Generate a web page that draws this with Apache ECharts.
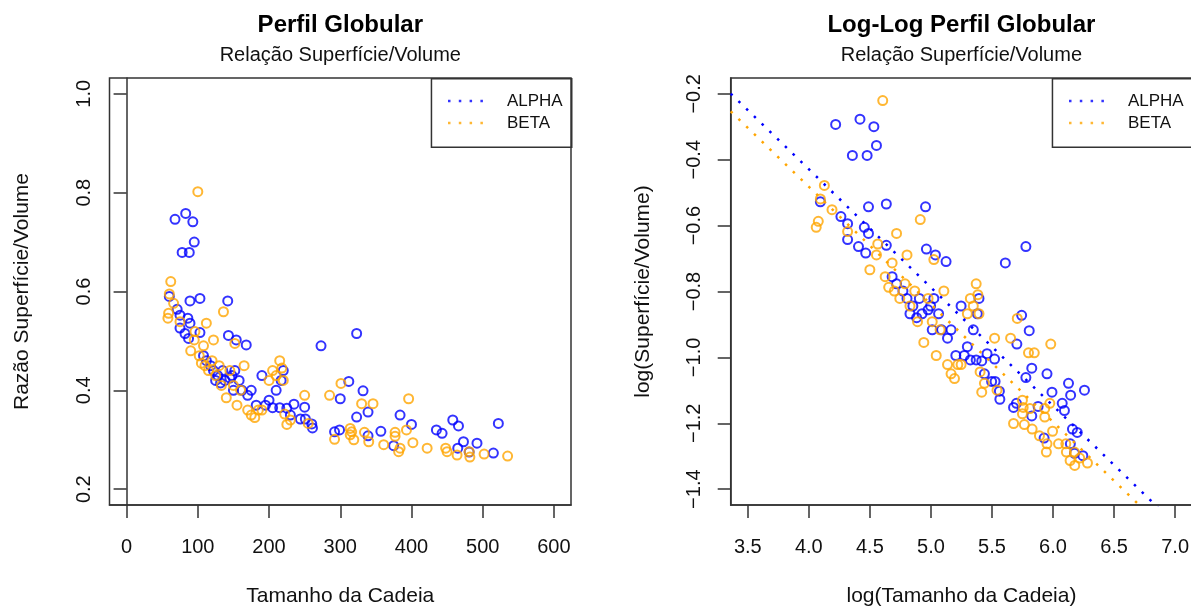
<!DOCTYPE html>
<html>
<head>
<meta charset="utf-8">
<script src="https://cdn.jsdelivr.net/npm/echarts@6/dist/echarts.min.js"></script>
<style>
  html, body { margin: 0; padding: 0; background: #fff; }
  #chart { width: 1191px; height: 606px; }
</style>
</head>
<body>
<div id="chart"></div>
<script>
// dados (Tamanho da Cadeia, Razao Superficie/Volume)
var alphaTam = [60, 68, 71, 75, 75, 78, 82, 83, 86, 87, 88, 89, 89, 93, 95, 103, 103, 108, 112, 118,
  122, 125, 128, 132, 135, 138, 142, 143, 145, 148, 150, 152, 154, 158, 162, 168, 170, 175, 182, 190,
  195, 200, 205, 210, 215, 217, 220, 225, 230, 235, 244, 250, 251, 260, 261, 273, 292, 299, 300, 312,
  323, 323, 332, 339, 339, 357, 375, 384, 400, 435, 443, 458, 465, 466, 473, 481, 492, 515, 522];
var alphaRazao = [0.59, 0.746, 0.564, 0.552, 0.526, 0.679, 0.515, 0.758, 0.546, 0.505, 0.679, 0.581, 0.536, 0.741, 0.70, 0.586, 0.517, 0.47, 0.46, 0.45,
  0.44, 0.42, 0.43, 0.415, 0.44, 0.42, 0.581, 0.511, 0.425, 0.43, 0.40, 0.44, 0.502, 0.42, 0.40, 0.492, 0.39, 0.40, 0.37, 0.43,
  0.37, 0.38, 0.365, 0.40, 0.365, 0.42, 0.44, 0.364, 0.35, 0.372, 0.342, 0.366, 0.342, 0.332, 0.324, 0.490, 0.316, 0.320, 0.383, 0.418,
  0.515, 0.346, 0.399, 0.356, 0.308, 0.317, 0.288, 0.350, 0.331, 0.320, 0.313, 0.340, 0.283, 0.328, 0.296, 0.275, 0.293, 0.273, 0.333];

var betaTam = [58, 59, 60, 62, 66, 75, 90, 95, 96, 100, 102, 105, 108, 110, 112, 115, 120, 122, 125, 130,
  133, 136, 140, 145, 150, 152, 155, 160, 165, 170, 175, 180, 185, 190, 200, 205, 210, 215, 218, 220,
  222, 225, 230, 250, 255, 285, 292, 301, 314, 314, 316, 319, 330, 334, 340, 346, 361, 377, 377, 382,
  384, 393, 396, 402, 422, 448, 450, 464, 481, 482, 502, 535];
var betaRazao = [0.546, 0.556, 0.595, 0.620, 0.576, 0.539, 0.48, 0.502, 0.519, 0.802, 0.47, 0.455, 0.49, 0.45, 0.536, 0.44, 0.46, 0.502, 0.43, 0.45,
  0.41, 0.559, 0.385, 0.44, 0.41, 0.495, 0.37, 0.40, 0.45, 0.36, 0.35, 0.345, 0.36, 0.36, 0.42, 0.44, 0.43, 0.46, 0.445, 0.42,
  0.352, 0.331, 0.34, 0.39, 0.333, 0.390, 0.301, 0.414, 0.323, 0.310, 0.316, 0.300, 0.373, 0.315, 0.296, 0.373, 0.290, 0.315, 0.307, 0.276,
  0.283, 0.320, 0.383, 0.294, 0.283, 0.283, 0.276, 0.269, 0.276, 0.265, 0.271, 0.267];

// retas ajustadas no grafico log-log (intercepto, inclinacao)
var ajusteAlpha = [1.007, -0.359];
var ajusteBeta = [0.946, -0.357];

// marcas dos eixos
var ticksX1 = [0, 100, 200, 300, 400, 500, 600];
var ticksY1 = [0.2, 0.4, 0.6, 0.8, 1.0];
var ticksX2 = [3.5, 4.0, 4.5, 5.0, 5.5, 6.0, 6.5, 7.0];
var ticksY2 = [-1.4, -1.2, -1.0, -0.8, -0.6, -0.4, -0.2];

var AZUL = '#0000ff';
var LARANJA = '#ffa500';
var FONTE = '"Liberation Sans", Arial, Helvetica, sans-serif';
var ICONE = 'path://M0,0h2.5v2.5h-2.5z M10.8,0h2.5v2.5h-2.5z M21.6,0h2.5v2.5h-2.5z M32.4,0h2.5v2.5h-2.5z';

// limites como no R (4% de folga)
function limites(t) {
  var a = t[0], b = t[t.length - 1], d = (b - a) * 0.04;
  return [a - d, b + d];
}
var limX1 = limites(ticksX1), limY1 = limites(ticksY1);
var limX2 = limites(ticksX2), limY2 = limites(ticksY2);

function pares(xs, ys, log) {
  return xs.map(function (x, i) {
    return log ? [Math.log(x), Math.log(ys[i])] : [x, ys[i]];
  });
}
function reta(c) {
  return [[limX2[0], c[0] + c[1] * limX2[0]], [limX2[1], c[0] + c[1] * limX2[1]]];
}
function fmt(v) {
  return v.toFixed(1).replace('-', '\u2212');
}
function fmtInt(v) {
  return String(Math.round(v));
}

function eixoX(idx, lim, ticks, nome, f) {
  return {
    gridIndex: idx, type: 'value', min: lim[0], max: lim[1],
    name: nome, nameLocation: 'middle', nameGap: 81,
    nameTextStyle: { fontSize: 21, color: '#111', fontFamily: FONTE },
    axisLine: { show: true, lineStyle: { color: '#333', width: 1.5 } },
    axisTick: { show: true, length: 13, customValues: ticks, lineStyle: { color: '#333', width: 1.5 } },
    axisLabel: { customValues: ticks, formatter: f, fontSize: 20, color: '#111', fontFamily: FONTE, margin: 32 },
    splitLine: { show: false }
  };
}
function eixoY(idx, lim, ticks, nome, margem) {
  return {
    gridIndex: idx, type: 'value', min: lim[0], max: lim[1],
    name: nome, nameLocation: 'middle', nameGap: 77,
    nameTextStyle: { fontSize: 21, color: '#111', fontFamily: FONTE },
    axisLine: { show: true, lineStyle: { color: '#333', width: 1.5 } },
    axisTick: { show: true, length: 13, customValues: ticks, lineStyle: { color: '#333', width: 1.5 } },
    axisLabel: { customValues: ticks, formatter: fmt, rotate: 90, fontSize: 20, color: '#111', fontFamily: FONTE, margin: margem },
    splitLine: { show: false }
  };
}
function pontos(nome, cor, idx, dados) {
  return {
    name: nome, type: 'scatter', xAxisIndex: idx, yAxisIndex: idx,
    symbol: 'circle', symbolSize: 9, data: dados,
    itemStyle: { color: 'rgba(0,0,0,0)', borderColor: cor, borderWidth: 2 },
    emphasis: { disabled: true }
  };
}
function linha(nome, cor, dados) {
  return {
    name: nome, type: 'line', xAxisIndex: 1, yAxisIndex: 1, data: dados,
    symbol: 'none', clip: true, silent: true, z: 3,
    lineStyle: { color: cor, width: 2.5, type: [2.5, 8.3], cap: 'butt' }
  };
}
function legenda(x) {
  return {
    orient: 'vertical', left: x, top: 90, padding: 0, itemGap: 0,
    itemWidth: 35, itemHeight: 2.5, selectedMode: false,
    textStyle: { fontSize: 17, color: '#111', fontFamily: FONTE, lineHeight: 22, padding: [0, 0, 0, 19] },
    data: [
      { name: 'ALPHA', icon: ICONE, itemStyle: { color: AZUL, borderWidth: 0 } },
      { name: 'BETA', icon: ICONE, itemStyle: { color: LARANJA, borderWidth: 0 } }
    ]
  };
}
function titulo(texto, x) {
  return {
    text: texto, subtext: 'Relação Superfície/Volume',
    left: x, top: 13, padding: 0, textAlign: 'center', itemGap: 8,
    textStyle: { fontSize: 24, fontWeight: 'bold', color: '#000', fontFamily: FONTE },
    subtextStyle: { fontSize: 20, color: '#111', fontFamily: FONTE }
  };
}
function caixa(x, y, w, h) {
  return { type: 'rect', left: x, top: y, shape: { width: w, height: h },
    style: { fill: 'rgba(0,0,0,0)', stroke: '#333', lineWidth: 1.5 }, z: 10 };
}
function grade(x) {
  return {
    left: x, top: 78, width: 461.5, height: 427, outerBoundsMode: 'none', containLabel: false,
    show: true, borderColor: '#333', borderWidth: 1.5, backgroundColor: 'rgba(0,0,0,0)'
  };
}

var chart = echarts.init(document.getElementById('chart'), null, { renderer: 'canvas' });
chart.setOption({
  animation: false,
  backgroundColor: '#fff',
  title: [titulo('Perfil Globular', 340.3), titulo('Log-Log Perfil Globular', 961.4)],
  grid: [grade(109.5), grade(730.7)],
  xAxis: [
    eixoX(0, limX1, ticksX1, 'Tamanho da Cadeia', fmtInt),
    eixoX(1, limX2, ticksX2, 'log(Tamanho da Cadeia)', fmt)
  ],
  yAxis: [
    eixoY(0, limY1, ticksY1, 'Razão Superfície/Volume', 15),
    eixoY(1, limY2, ticksY2, 'log(Superfície/Volume)', 26)
  ],
  legend: [legenda(448), legenda(1069)],
  graphic: [caixa(430.7, 78, 140.3, 68.5), caixa(1051.7, 78, 141, 68.5)],
  series: [
    pontos('ALPHA', AZUL, 0, pares(alphaTam, alphaRazao, false)),
    pontos('BETA', LARANJA, 0, pares(betaTam, betaRazao, false)),
    pontos('ALPHA', AZUL, 1, pares(alphaTam, alphaRazao, true)),
    pontos('BETA', LARANJA, 1, pares(betaTam, betaRazao, true)),
    linha('ALPHA', AZUL, reta(ajusteAlpha)),
    linha('BETA', LARANJA, reta(ajusteBeta))
  ]
});
</script>
</body>
</html>
